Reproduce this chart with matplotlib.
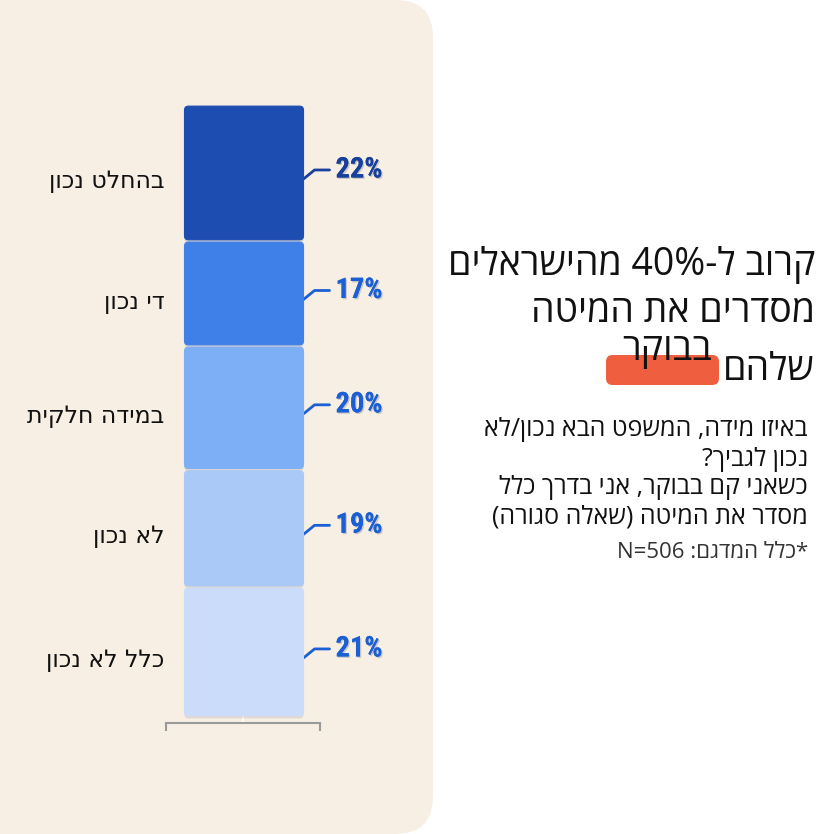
import re
import matplotlib.pyplot as plt
import matplotlib.patheffects as pe
from matplotlib.patches import FancyBboxPatch
from matplotlib.transforms import IdentityTransform

plt.rcParams['font.family'] = ['Open Sans', 'DejaVu Sans']

categories = ["בהחלט נכון", "די נכון", "במידה חלקית", "לא נכון", "כלל לא נכון"]
values = [22, 17, 20, 19, 21]
bar_colors = ["#1d4db1", "#3f7fe8", "#7cafF5", "#aac9f6", "#cbdcfa"]
label_colors = ["#173f9c", "#1a5fd4", "#1a5fd4", "#1a5fd4", "#1a5fd4"]

title_lines = ["קרוב ל-40% מהישראלים", "מסדרים את המיטה", "שלהם"]
title_word = "בבוקר"
subtitle_lines = ["באיזו מידה, המשפט הבא נכון/לא", "נכון לגביך?",
                  "כשאני קם בבוקר, אני בדרך כלל", "מסדר את המיטה (שאלה סגורה)"]
note = "*כלל המדגם: N=506"


def rtl(s):
    # matplotlib has no bidi, so flip the hebrew by hand
    rev = s[::-1]
    rev = re.sub(r'[0-9A-Za-z%=.]+', lambda m: m.group(0)[::-1], rev)
    return rev.translate(str.maketrans("()", ")("))


W = 834
fig = plt.figure(figsize=(8.34, 8.34), dpi=100)
fig.patch.set_facecolor("white")

panel_color = "#f8efe4"
fig.patches.append(FancyBboxPatch((-0.1, 0.0), 0.1 + 433 / W, 1.0,
                                  boxstyle="round,pad=0,rounding_size=0.045",
                                  transform=fig.transFigure, facecolor=panel_color,
                                  edgecolor="none", zorder=-5))

ax = fig.add_axes([166 / W, 111 / W, 154 / W, 618 / W])
ax.set_zorder(2)
ax.set_facecolor("none")
ax.set_xlim(0, 1)
ax.set_ylim(-1, 99)

bar_left, bar_w = 0.12, 0.773
r = 4 / 154
asp = (100 / 618) * 154
bottoms = [sum(values[i + 1:]) for i in range(len(values))]
for v, b, c in zip(values, bottoms, bar_colors):
    ax.add_patch(FancyBboxPatch((bar_left, b + 0.18), bar_w, v - 0.36,
                                boxstyle=f"round,pad=0,rounding_size={r}",
                                mutation_aspect=asp, facecolor=c,
                                edgecolor=c, linewidth=0.8, zorder=3,
                                path_effects=[pe.withSimplePatchShadow(offset=(0, -2), alpha=0.12)]))

# labels, connectors
xr = bar_left + bar_w
for cat, v, b, lc in zip(categories, values, bottoms, label_colors):
    mid = b + v / 2
    ax.text(-0.01, mid - 1.3, rtl(cat), ha="right", va="center", fontsize=17,
            color="#111111", family="DejaVu Sans", transform=ax.get_yaxis_transform())
    px, py = ax.transData.transform((xr, mid))
    ax.plot([px, px + 11, px + 26], [py - 6, py + 3, py + 3], color=lc, lw=2,
            transform=IdentityTransform(), solid_capstyle="round", clip_on=False)
    ax.text(px + 32, py + 3, f"{v}%", ha="left", va="center", fontsize=20.5,
            fontweight="bold", color=lc,
            family=["Roboto Condensed", "Roboto", "DejaVu Sans"],
            transform=IdentityTransform(),
            path_effects=[pe.withSimplePatchShadow(offset=(1, -1), alpha=0.2), pe.Normal()])

for s in ["top", "left", "right"]:
    ax.spines[s].set_visible(False)
ax.spines["bottom"].set_color("#9a9a9a")
ax.spines["bottom"].set_linewidth(1.5)
ax.set_yticks([])
ax.set_xticks([0.5])
ax.set_xticklabels([])
ax.tick_params(axis="x", which="major", direction="in", length=12, width=1.5, color="white")
ax.set_xticks([0, 1], minor=True)
ax.tick_params(axis="x", which="minor", direction="out", length=6, width=1.5, color="#9a9a9a")

# right side text
fy = lambda y: 1 - y / W
fig.text(815 / W, fy(265), rtl(title_lines[0]), ha="right", va="center", fontsize=27, color="#111111")
fig.text(815 / W, fy(312), rtl(title_lines[1]), ha="right", va="center", fontsize=27, color="#111111")
fig.text(815 / W, fy(370), rtl(title_lines[2]), ha="right", va="center", fontsize=27, color="#111111")
fig.patches.append(FancyBboxPatch((606 / W, fy(385)), 113 / W, 30 / W,
                                  boxstyle="round,pad=0,rounding_size=0.008",
                                  transform=fig.transFigure, facecolor="#ef5f3f",
                                  edgecolor="none", zorder=1))
fig.text(712 / W, fy(350), rtl(title_word), ha="right", va="center", fontsize=27,
         color="#111111", zorder=2)

for i, line in enumerate(subtitle_lines):
    fig.text(808 / W, fy(430 + i * 29), rtl(line), ha="right", va="center",
             fontsize=18, color="#111111")
fig.text(808 / W, fy(553), rtl(note), ha="right", va="center", fontsize=16, color="#333333")

fig.savefig("out.png", dpi=100)
